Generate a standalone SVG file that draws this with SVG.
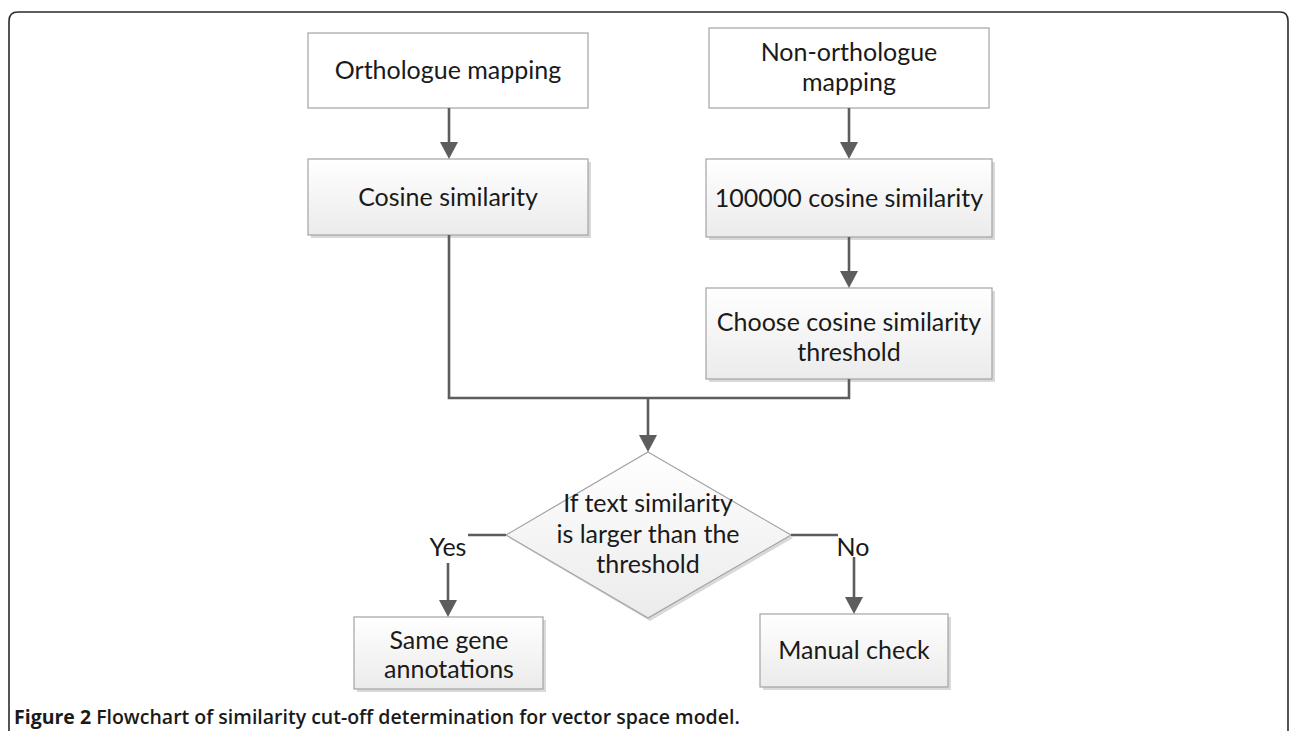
<svg xmlns="http://www.w3.org/2000/svg" width="1290" height="731" viewBox="0 0 1290 731">
<style>
.box{stroke:#a3a3a3;stroke-width:1.2}
.plain{fill:#ffffff}
.grad{fill:url(#g)}
.sh{fill:#d9d9d9}
.t{font-family:Lato,"Open Sans","Liberation Sans",sans-serif;font-size:25px;fill:#1a1a1a;text-anchor:middle}
.c{stroke:#5d5d5d;stroke-width:2.6;fill:none}
.cap{font-family:"Open Sans","Noto Sans","Liberation Sans",sans-serif;font-size:19.5px;fill:#1a1a1a;font-weight:600}
</style>
<defs>
<linearGradient id="g" x1="0" y1="0" x2="0" y2="1">
<stop offset="0" stop-color="#ffffff"/>
<stop offset="1" stop-color="#ebebeb"/>
</linearGradient>
<marker id="ah" markerUnits="userSpaceOnUse" markerWidth="17" markerHeight="18" viewBox="0 0 17 18" refX="11" refY="9" orient="auto">
<path d="M0,0 L17,9 L0,18 Z" fill="#5d5d5d"/>
</marker>
</defs>
<rect width="1290" height="731" fill="#ffffff"/>
<path d="M9,731 L9,21 Q9,12 18,12 L1280,12 Q1288,12 1288,21 L1288,731" fill="none" stroke="#2b2b2b" stroke-width="1.6"/>

<g id="n1"><rect class="box plain" x="308" y="33" width="280" height="75"/><text class="t" x="448" y="79">Orthologue mapping</text></g>
<g id="n2"><rect class="sh" x="311" y="162" width="280" height="76"/><rect class="box grad" x="308" y="159" width="280" height="76"/><text class="t" x="448" y="206">Cosine similarity</text></g>
<g id="n3"><rect class="box plain" x="709" y="28" width="280" height="80"/><text class="t" x="849" y="61">Non-orthologue</text><text class="t" x="849" y="91">mapping</text></g>
<g id="n4"><rect class="sh" x="709" y="162" width="286" height="78"/><rect class="box grad" x="706" y="159" width="286" height="78"/><text class="t" x="849" y="207">100000 cosine similarity</text></g>
<g id="n5"><rect class="sh" x="709" y="291" width="286" height="91"/><rect class="box grad" x="706" y="288" width="286" height="91"/><text class="t" x="849" y="331">Choose cosine similarity</text><text class="t" x="849" y="361">threshold</text></g>
<g id="n6"><polygon class="sh" points="650,455 793,538 650,621 509,538"/><polygon class="box grad" points="648,452 791,535 648,618 506,535"/><text class="t" x="648" y="512">If text similarity</text><text class="t" x="648" y="543">is larger than the</text><text class="t" x="648" y="573">threshold</text></g>
<g id="n7"><rect class="sh" x="357" y="620" width="189" height="72"/><rect class="box grad" x="354" y="617" width="189" height="72"/><text class="t" x="449" y="649">Same gene</text><text class="t" x="449" y="678">annotations</text></g>
<g id="n8"><rect class="sh" x="763" y="617" width="188" height="73"/><rect class="box grad" x="760" y="614" width="188" height="73"/><text class="t" x="854" y="659">Manual check</text></g>

<g id="connectors">
<line class="c" x1="449" y1="108" x2="449" y2="153" marker-end="url(#ah)"/>
<line class="c" x1="849" y1="108" x2="849" y2="153" marker-end="url(#ah)"/>
<line class="c" x1="849" y1="237" x2="849" y2="282" marker-end="url(#ah)"/>
<polyline class="c" points="449,235 449,398 849,398 849,379"/>
<line class="c" x1="648" y1="398" x2="648" y2="446" marker-end="url(#ah)"/>
<line class="c" x1="506" y1="535" x2="468" y2="535"/>
<line class="c" x1="448" y1="563" x2="448" y2="611" marker-end="url(#ah)"/>
<line class="c" x1="791" y1="535" x2="838" y2="535"/>
<line class="c" x1="854" y1="557" x2="854" y2="608" marker-end="url(#ah)"/>
<text class="t" x="448" y="556">Yes</text>
<text class="t" x="853" y="556">No</text>
</g>

<text class="cap" x="14" y="724"><tspan font-weight="700">Figure 2</tspan> Flowchart of similarity cut-off determination for vector space model.</text>
</svg>
